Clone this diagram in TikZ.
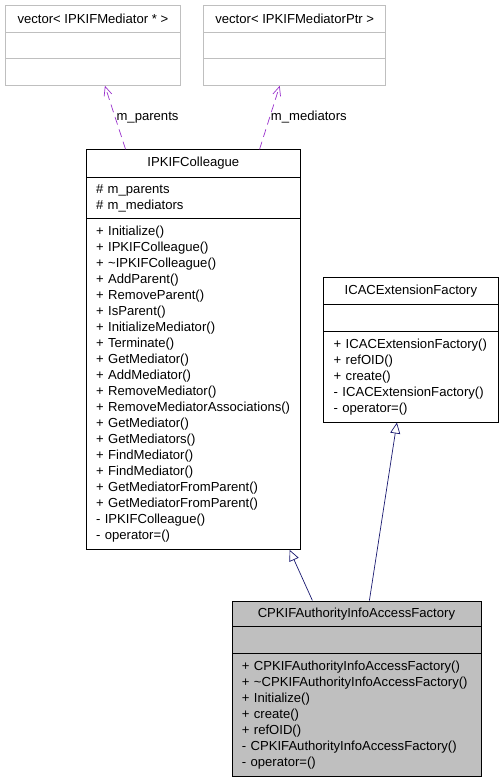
\documentclass[tikz,border=0pt]{standalone}
\usepackage{fontspec}
\setmainfont{Liberation Sans}
\usepackage{xcolor}
\usepackage{tikz}
\usetikzlibrary{arrows.meta}
\definecolor{inheritblue}{HTML}{191970}
\definecolor{usespurple}{HTML}{9A32CD}
\definecolor{classgrey}{HTML}{BFBFBF}

\begin{document}
\begin{tikzpicture}[x=1pt,y=-1pt,
  every node/.style={font=\fontsize{13.1}{16}\selectfont},
  head/.style={draw, line width=0.8pt, anchor=north west, inner sep=0pt, minimum height=#1},
  body/.style={draw, line width=0.8pt, anchor=north west, align=left, inner xsep=10pt, inner ysep=0pt, minimum height=#1},
  greyclass/.style={draw=classgrey},
  uses/.style={usespurple, line width=0.7pt, dash pattern=on 8pt off 5pt, -{Straight Barb[length=9pt,width=8pt]}},
  inherit/.style={inheritblue, line width=0.7pt, -{Triangle[open,length=11pt,width=10pt,fill=white]}},
  role/.style={black, inner sep=1pt, anchor=west}]
\useasboundingbox (0,0) rectangle (501,781);

\node[head=27, greyclass, minimum width=175pt] (vecATitle) at (5,5) {vector< IPKIFMediator * >};
\node[head=26, greyclass, minimum width=175pt] (vecAAttr) at (5,32) {};
\node[head=27, greyclass, minimum width=175pt] (vecAOps) at (5,58) {};

\node[head=27, greyclass, minimum width=182pt] (vecBTitle) at (203.3,5) {vector< IPKIFMediatorPtr >};
\node[head=26, greyclass, minimum width=182pt] (vecBAttr) at (203.3,32) {};
\node[head=27, greyclass, minimum width=182pt] (vecBOps) at (203.3,58) {};

\node[head=27.4, minimum width=214.5pt] (colleagueTitle) at (85.7,149.3) {IPKIFColleague};
\node[body=41.6, text width=194.5pt] (colleagueAttr) at (85.7,176.7) {\# m\_parents\\\# m\_mediators};
\node[body=330.7, text width=194.5pt] (colleagueOps) at (85.7,218.3) {+ Initialize()\\+ IPKIFColleague()\\+ \textasciitilde IPKIFColleague()\\+ AddParent()\\+ RemoveParent()\\+ IsParent()\\+ InitializeMediator()\\+ Terminate()\\+ GetMediator()\\+ AddMediator()\\+ RemoveMediator()\\+ RemoveMediatorAssociations()\\+ GetMediator()\\+ GetMediators()\\+ FindMediator()\\+ FindMediator()\\+ GetMediatorFromParent()\\+ GetMediatorFromParent()\\- IPKIFColleague()\\- operator=()};

\node[head=26.4, minimum width=174.4pt] (icacTitle) at (323.3,277.3) {ICACExtensionFactory};
\node[head=27.3, minimum width=174.4pt] (icacAttr) at (323.3,303.7) {};
\node[body=90.7, text width=154.4pt] (icacOps) at (323.3,331) {+ ICACExtensionFactory()\\+ refOID()\\+ create()\\- ICACExtensionFactory()\\- operator=()};

\node[head=25.8, minimum width=249pt, fill=classgrey] (factTitle) at (231.5,600.5) {CPKIFAuthorityInfoAccessFactory};
\node[head=26.7, minimum width=249pt, fill=classgrey] (factAttr) at (231.5,626.3) {};
\node[body=123, text width=229pt, fill=classgrey] (factOps) at (231.5,653) {+ CPKIFAuthorityInfoAccessFactory()\\+ \textasciitilde CPKIFAuthorityInfoAccessFactory()\\+ Initialize()\\+ create()\\+ refOID()\\- CPKIFAuthorityInfoAccessFactory()\\- operator=()};

\draw[uses] ([xshift=-67.8pt]colleagueTitle.north) -- node[role] {m\_parents} ([xshift=12pt]vecAOps.south);
\draw[uses] ([xshift=66.2pt]colleagueTitle.north) -- node[role] {m\_mediators} ([xshift=-15pt]vecBOps.south);
\draw[inherit] ([xshift=-44pt]factTitle.north) -- ([xshift=96.2pt]colleagueOps.south);
\draw[inherit] ([xshift=13pt]factTitle.north) -- ([xshift=-14pt]icacOps.south);
\end{tikzpicture}
\end{document}
